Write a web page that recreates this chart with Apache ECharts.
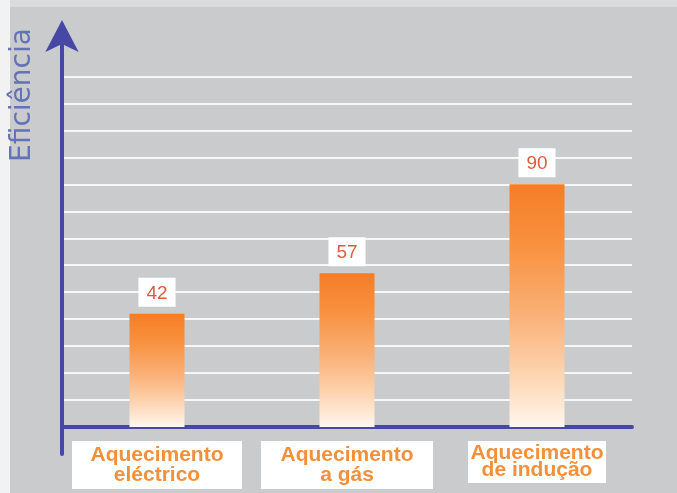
<!DOCTYPE html>
<html><head><meta charset="utf-8">
<script src="https://cdn.jsdelivr.net/npm/echarts@6.0.0/dist/echarts.min.js"></script>
<style>html,body{margin:0;padding:0;background:#cacbcc}#c{width:677px;height:493px}</style>
</head><body><div id="c"></div>
<script>
const categories = ['Aquecimento\neléctrico', 'Aquecimento\na gás', 'Aquecimento\nde indução'];
const values = [42, 57, 90];
const axisTitle = 'Eficiência';
const yMin = -10, yMax = 145, yStep = 10, gridTop = 130;

const lineColors = [];
for (let v = yMin; v <= yMax; v += yStep) {
  lineColors.push(v <= 0 || v > gridTop ? 'rgba(0,0,0,0)' : 'rgba(255,255,255,0.85)');
}
lineColors.push('rgba(0,0,0,0)');
const labelStyles = [
  {width: 160, lineHeight: 20},
  {width: 162, lineHeight: 20},
  {width: 128, lineHeight: 17}
];
const rich = {};
labelStyles.forEach((s, i) => {
  rich['c' + i] = {
    width: s.width, lineHeight: s.lineHeight, align: 'center',
    fontFamily: "'Liberation Sans Narrow', 'Liberation Sans', sans-serif",
    fontWeight: 'bold', fontSize: 21, color: '#f3903a'
  };
});

const chart = echarts.init(document.getElementById('c'), null, {renderer: 'canvas'});
chart.setOption({
  backgroundColor: '#cacbcc',
  animation: false,
  grid: {left: 62, right: 45, top: 36, bottom: 39, containLabel: false, outerBoundsMode: 'none'},
  xAxis: {
    type: 'category',
    data: categories,
    axisLine: {show: true, onZero: true, lineStyle: {color: '#4747a6', width: 4}},
    axisTick: {show: false},
    splitLine: {show: false},
    axisLabel: {
      interval: 0, margin: -13,
      backgroundColor: '#ffffff', padding: [4, 5, 4, 5],
      formatter: (v, i) => '{c' + i + '|' + v + '}',
      rich: rich
    }
  },
  yAxis: {
    type: 'value',
    min: yMin, max: yMax, interval: yStep,
    axisLine: {show: true, symbol: ['none', 'arrow'], symbolSize: [25, 32], symbolOffset: [0, 16],
      lineStyle: {color: '#4747a6', width: 4}},
    axisTick: {show: false},
    axisLabel: {show: false},
    splitLine: {show: true, lineStyle: {color: lineColors, width: 2}}
  },
  graphic: [
    {type: 'rect', z: -10, shape: {x: 0, y: 0, width: 677, height: 7}, style: {fill: '#dadbdc'}},
    {type: 'rect', z: -10, shape: {x: 0, y: 0, width: 10, height: 493}, style: {fill: '#f2f2f2'}},
    {type: 'text', x: 23, y: 95, rotation: Math.PI / 2,
      style: {text: axisTitle, x: 0, y: 0, align: 'center', verticalAlign: 'middle',
        fontFamily: "'DejaVu Sans', sans-serif", fontSize: 28, fill: '#6472b8'}}
  ],
  series: [{
    type: 'bar',
    data: values,
    barWidth: 55,
    itemStyle: {
      color: new echarts.graphic.LinearGradient(0, 0, 0, 1, [
        {offset: 0, color: '#f67d26'},
        {offset: 0.25, color: '#f8913f'},
        {offset: 0.55, color: '#fab27a'},
        {offset: 0.8, color: '#fdd7b5'},
        {offset: 1, color: '#fff6ee'}
      ])
    },
    label: {
      show: true, position: 'top', distance: 7,
      backgroundColor: '#ffffff', padding: [6, 8, 4, 8],
      color: '#e05a3c', fontSize: 19, fontFamily: "'Liberation Sans', sans-serif"
    }
  }]
});
</script>
</body></html>
